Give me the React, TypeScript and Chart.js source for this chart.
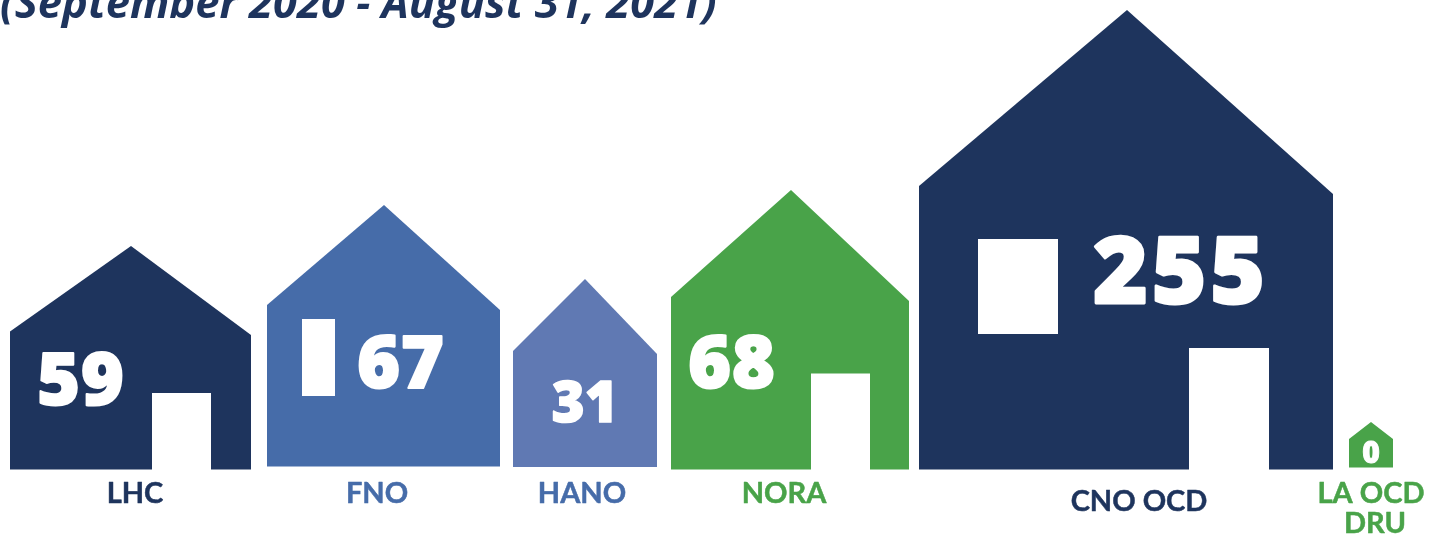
import React, { useEffect, useRef } from "react";
import { Chart, registerables } from "chart.js";

Chart.register(...registerables);

const titleText = "(September 2020 - August 31, 2021)";
const categories = ["LHC", "FNO", "HANO", "NORA", "CNO OCD", "LA OCD DRU"];
const values = [59, 67, 31, 68, 255, 0];

// House outlines, in units of the hidden axes (y = height above the ground line)
const houseLeft = [10, 267, 513, 671, 919, 1349];
const houseRight = [251, 500, 657, 909, 1333, 1393];
const ridgeX = [131, 384, 585, 791, 1127, 1371];
const ridgeHeight = [223.5, 264.5, 190.5, 279.5, 459.5, 47.5];
const eaveLeftHeight = [138, 164.5, 118.5, 172.5, 283.5, 30.5];
const eaveRightHeight = [134.5, 159.5, 115.5, 168.5, 275.5, 30.5];
const groundHeight = [0, 3, 2.5, 0, 0, 2];

const doorOwner = [0, 3, 4];
const doorLeft = [152, 811, 1189];
const doorRight = [211, 870, 1269];
const doorHeight = [76.5, 96, 121.5];

const windowOwner = [1, 4];
const windowLeft = [302, 978];
const windowRight = [335, 1058];
const windowTop = [150.5, 230.5];
const windowBottom = [73.5, 135.5];

const NAVY = "#1E345D";
const BLUE = "#466CA9";
const PERI = "#6079B3";
const GREEN = "#49A349";
const houseColors = [NAVY, BLUE, PERI, GREEN, NAVY, GREEN];
const labelColors = [NAVY, BLUE, BLUE, GREEN, NAVY, GREEN];

const valueFontSize = [73, 73, 56, 73, 93, 30];
const valueSpacing = [1, 1, 0.5, 1, 4, 0];
const valueAnchorX = [81, 401, 585, 732, 1181, 1371];
const valueAnchorBase = [65, 82, 48, 82, 167, 7];
const labelAnchorX = [135, 377, 582, 784, 1139, 1371];
const labelSecondLineX = 1375;
const labelAnchorBase = [-33, -33, -33, -33, -41, -33];

const LABEL_FONT = "Lato, sans-serif";

const textPlugin = {
  id: "houseText",
  afterDatasetsDraw(chart: any) {
    const { ctx, scales } = chart;
    const px = (v: number) => scales.x.getPixelForValue(v);
    const py = (v: number) => scales.y.getPixelForValue(v);
    ctx.save();
    ctx.textAlign = "left";
    ctx.textBaseline = "alphabetic";
    ctx.fillStyle = NAVY;
    ctx.font = `italic 700 43.5px "Open Sans", sans-serif`;
    ctx.fillText(titleText, px(0), py(452));

    ctx.textAlign = "center";
    ctx.lineJoin = "round";
    values.forEach((v, i) => {
      ctx.fillStyle = "#FFFFFF";
      ctx.strokeStyle = "#FFFFFF";
      ctx.lineWidth = valueFontSize[i] * 0.03;
      ctx.letterSpacing = `${valueSpacing[i]}px`;
      ctx.font = `900 ${valueFontSize[i]}px "Noto Sans", sans-serif`;
      ctx.fillText(String(v), px(valueAnchorX[i]), py(valueAnchorBase[i]));
      ctx.strokeText(String(v), px(valueAnchorX[i]), py(valueAnchorBase[i]));
    });
    ctx.letterSpacing = "0px";

    categories.forEach((name, i) => {
      ctx.fillStyle = labelColors[i];
      ctx.strokeStyle = labelColors[i];
      ctx.lineWidth = 0.5;
      ctx.font = `700 29px ${LABEL_FONT}`;
      const put = (text: string, x: number, y: number) => {
        ctx.fillText(text, px(x), py(y));
        ctx.strokeText(text, px(x), py(y));
      };
      if (name === "LA OCD DRU") {
        put("LA OCD", labelAnchorX[i], labelAnchorBase[i]);
        put("DRU", labelSecondLineX, labelAnchorBase[i] - 30);
      } else {
        put(name, labelAnchorX[i], labelAnchorBase[i]);
      }
    });
    ctx.restore();
  },
};

const areaDefaults = {
  type: "line",
  borderWidth: 0,
  pointRadius: 0,
  pointHoverRadius: 0,
  tension: 0,
};

export default function App() {
  const ref = useRef<HTMLCanvasElement | null>(null);
  useEffect(() => {
    document.body.style.margin = "0";
    const houses = categories.map((name, i) => ({
      ...areaDefaults,
      label: name,
      order: 3,
      backgroundColor: houseColors[i],
      borderColor: houseColors[i],
      fill: { value: groundHeight[i] },
      data: [
        { x: houseLeft[i], y: eaveLeftHeight[i] },
        { x: ridgeX[i], y: ridgeHeight[i] },
        { x: houseRight[i], y: eaveRightHeight[i] },
      ],
    }));
    const doors = doorLeft.map((l, i) => ({
      ...areaDefaults,
      label: `${categories[doorOwner[i]]} door`,
      order: 1,
      backgroundColor: "#FFFFFF",
      borderColor: "#FFFFFF",
      fill: { value: -1 },
      data: [
        { x: l, y: doorHeight[i] },
        { x: doorRight[i], y: doorHeight[i] },
      ],
    }));
    const windows = windowLeft.map((l, i) => ({
      ...areaDefaults,
      label: `${categories[windowOwner[i]]} window`,
      order: 1,
      backgroundColor: "#FFFFFF",
      borderColor: "#FFFFFF",
      fill: { value: windowBottom[i] },
      data: [
        { x: l, y: windowTop[i] },
        { x: windowRight[i], y: windowTop[i] },
      ],
    }));
    const chart = new Chart(ref.current as HTMLCanvasElement, {
      type: "line",
      data: { datasets: [...doors, ...windows, ...houses] as any },
      options: {
        responsive: false,
        animation: false,
        layout: { padding: 0 },
        plugins: {
          legend: { display: false },
          title: { display: false },
          tooltip: { enabled: false },
        },
        scales: {
          x: { type: "linear", min: 0, max: 1440, display: false },
          y: { type: "linear", min: -65.5, max: 469.5, display: false },
        },
      },
      plugins: [textPlugin],
    } as any);
    return () => chart.destroy();
  }, []);
  return (
    <canvas
      ref={ref}
      width={1440}
      height={535}
      style={{ display: "block", position: "absolute", left: 0, top: 0, width: 1440, height: 535 }}
    />
  );
}
